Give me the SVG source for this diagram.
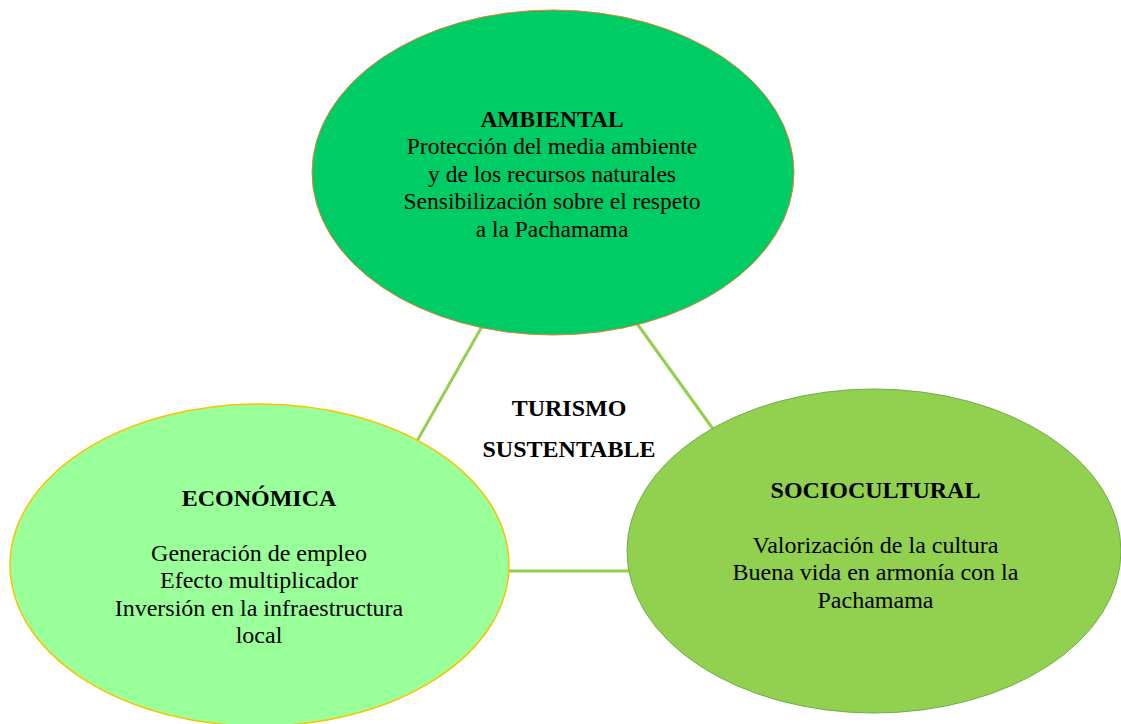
<svg xmlns="http://www.w3.org/2000/svg" width="1121" height="724" viewBox="0 0 1121 724">
<style>
text{font-family:"Liberation Serif","Times New Roman",serif;fill:#000;text-anchor:middle;font-size:24px}
.b{font-weight:bold}
.a{font-size:23.5px}
.c{stroke:#92d050;stroke-width:3;fill:none}
</style>
<rect width="1121" height="724" fill="#fff"/>
<g id="connectors">
<line class="c" x1="497" y1="300" x2="417" y2="441"/>
<line class="c" x1="620" y1="300" x2="713" y2="429"/>
<line class="c" x1="500" y1="571" x2="640" y2="571"/>
</g>
<g id="center">
<text class="b" x="569" y="416">TURISMO</text>
<text class="b" x="569" y="457">SUSTENTABLE</text>
</g>
<g id="ambiental">
<ellipse cx="553" cy="172.5" rx="241" ry="162.5" fill="#00cc66" stroke="#ed7d31" stroke-width="1"/>
<text class="b a" x="552" y="127">AMBIENTAL</text>
<text class="a" x="552" y="154">Protección del media ambiente</text>
<text class="a" x="552" y="182">y de los recursos naturales</text>
<text class="a" x="552" y="209">Sensibilización sobre el respeto</text>
<text class="a" x="552" y="237">a la Pachamama</text>
</g>
<g id="economica">
<ellipse cx="259.5" cy="565" rx="249.5" ry="161" fill="#99ff99" stroke="#ffc000" stroke-width="1.5"/>
<text class="b" x="259" y="506">ECONÓMICA</text>
<text x="259" y="561">Generación de empleo</text>
<text x="259" y="588">Efecto multiplicador</text>
<text x="259" y="616">Inversión en la infraestructura</text>
<text x="259" y="643">local</text>
</g>
<g id="sociocultural">
<ellipse cx="874" cy="551" rx="247" ry="162" fill="#92d050" stroke="#70ad47" stroke-width="1"/>
<text class="b" x="875.5" y="498">SOCIOCULTURAL</text>
<text x="875.5" y="553">Valorización de la cultura</text>
<text x="875.5" y="580">Buena vida en armonía con la</text>
<text x="875.5" y="608">Pachamama</text>
</g>
</svg>
